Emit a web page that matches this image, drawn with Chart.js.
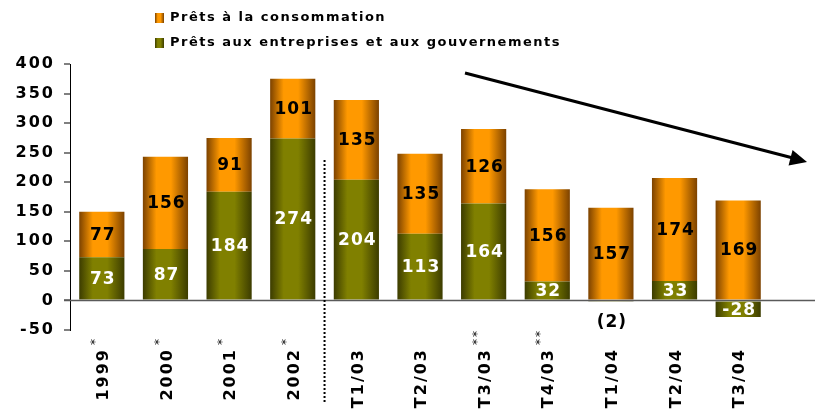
<!DOCTYPE html>
<html lang="fr">
<head>
<meta charset="utf-8">
<title>Prêts</title>
<script src="https://cdn.jsdelivr.net/npm/chart.js@4"></script>
<style>
  body { margin: 0; background: #fff; }
  canvas { display: block; }
</style>
</head>
<body>
<canvas id="pretsChart" width="820" height="412"></canvas>
<script>
// Données
const categories = ['1999', '2000', '2001', '2002', 'T1/03', 'T2/03', 'T3/03', 'T4/03', 'T1/04', 'T2/04', 'T3/04'];
const notes = ['*', '*', '*', '*', '', '', '**', '**', '', '', ''];
const pretsEntreprises = [73, 87, 184, 274, 204, 113, 164, 32, -2, 33, -28];
const pretsConsommation = [77, 156, 91, 101, 135, 135, 126, 156, 157, 174, 169];
const yTicks = [-50, 0, 50, 100, 150, 200, 250, 300, 350, 400];

const FONT = '"DejaVu Sans", Verdana, sans-serif';
const ORANGE = ['#7c4200', '#ff9900'];
const OLIVE = ['#3c3c00', '#808000'];

// Dégradé horizontal sur chaque barre
function makeGradient(c, x0, x1, colors) {
    const g = c.createLinearGradient(x0, 0, x1, 0);
    g.addColorStop(0, colors[0]);
    g.addColorStop(0.3, colors[1]);
    g.addColorStop(0.62, colors[1]);
    g.addColorStop(1, colors[0]);
    return g;
}

function barFill(colors) {
    return (ctx) => {
        if (ctx.type !== 'data') return colors[1];
        const el = ctx.chart.getDatasetMeta(ctx.datasetIndex).data[ctx.dataIndex];
        if (!el || el.x === undefined || !el.width) return colors[1];
        return makeGradient(ctx.chart.ctx, el.x - el.width / 2, el.x + el.width / 2, colors);
    };
}

// Légende, étiquettes, flèche et ligne pointillée
const decorPlugin = {
    id: 'decor',
    beforeDraw(chart) {
        chart.ctx.letterSpacing = '2px';
    },
    afterDatasetsDraw(chart) {
        const c = chart.ctx;
        const x = chart.scales.x;
        const y = chart.scales.y;
        const y0 = y.getPixelForValue(0);

        c.save();
        // ligne du zéro
        c.strokeStyle = '#5a5a5a';
        c.lineWidth = 1.5;
        c.beginPath();
        c.moveTo(64, y0);
        c.lineTo(815, y0);
        c.stroke();

        // ligne pointillée entre 2002 et T1/03
        const sep = (x.getPixelForValue(3) + x.getPixelForValue(4)) / 2;
        c.strokeStyle = '#000';
        c.lineWidth = 2;
        c.setLineDash([2, 2]);
        c.beginPath();
        c.moveTo(sep, 160);
        c.lineTo(sep, 402);
        c.stroke();
        c.setLineDash([]);

        // valeurs dans les barres
        c.font = 'bold 17px ' + FONT;
        c.letterSpacing = '1px';
        c.textAlign = 'center';
        c.textBaseline = 'middle';
        chart.data.datasets.forEach((ds, di) => {
            const meta = chart.getDatasetMeta(di);
            meta.data.forEach((el, i) => {
                const v = ds.data[i];
                const h = Math.abs(el.base - el.y);
                if (h < 12 && v < 0) {
                    c.fillStyle = '#000';
                    c.fillText('(' + Math.abs(v) + ')', el.x + 1, y0 + 22);
                    return;
                }
                c.fillStyle = ds.labelColor;
                c.fillText(String(v), el.x + 1, (el.y + el.base) / 2 + 1);
            });
        });

        // libellés de l'axe x, verticaux
        categories.forEach((lab, i) => {
            const px = x.getPixelForValue(i);
            c.save();
            c.translate(px + 2, 348);
            c.rotate(-Math.PI / 2);
            c.fillStyle = '#000';
            c.font = 'bold 16px ' + FONT;
            c.letterSpacing = '2px';
            c.textAlign = 'right';
            c.textBaseline = 'middle';
            c.fillText(lab, 0, 0);
            if (notes[i]) {
                c.font = '12px ' + FONT;
                c.letterSpacing = '2px';
                c.textAlign = 'left';
                c.fillText(notes[i], 3, -8);
            }
            c.restore();
        });

        // légende
        const items = [chart.data.datasets[1], chart.data.datasets[0]];
        items.forEach((ds, k) => {
            const cy = 18 + k * 25;
            c.fillStyle = makeGradient(c, 155, 164, ds.colors);
            c.fillRect(155, cy - 5, 9, 10);
            c.fillStyle = '#000';
            c.font = 'bold 13px ' + FONT;
            c.letterSpacing = '1.5px';
            c.textAlign = 'left';
            c.textBaseline = 'middle';
            c.fillText(ds.label, 170, cy);
        });

        // flèche de tendance
        c.strokeStyle = '#000';
        c.fillStyle = '#000';
        c.lineWidth = 3;
        c.beginPath();
        c.moveTo(465, 73);
        c.lineTo(793, 158);
        c.stroke();
        const ang = Math.atan2(162 - 73, 807 - 465);
        c.translate(807, 162);
        c.rotate(ang);
        c.beginPath();
        c.moveTo(0, 0);
        c.lineTo(-17, -8);
        c.lineTo(-17, 8);
        c.closePath();
        c.fill();
        c.restore();
    }
};

const chart = new Chart(document.getElementById('pretsChart'), {
    type: 'bar',
    data: {
        labels: categories,
        datasets: [
            {
                label: 'Prêts aux entreprises et aux gouvernements',
                data: pretsEntreprises,
                backgroundColor: barFill(OLIVE),
                colors: OLIVE,
                labelColor: '#fff'
            },
            {
                label: 'Prêts à la consommation',
                data: pretsConsommation,
                backgroundColor: barFill(ORANGE),
                colors: ORANGE,
                labelColor: '#000'
            }
        ]
    },
    options: {
        responsive: false,
        animation: false,
        barPercentage: 0.71,
        categoryPercentage: 1,
        layout: { padding: { top: 64, right: 50, left: 0, bottom: 0 } },
        plugins: {
            legend: { display: false },
            tooltip: { enabled: false }
        },
        scales: {
            x: {
                stacked: true,
                grid: { display: false },
                border: { display: false },
                ticks: { display: false },
                afterFit: (s) => { s.height = 82; }
            },
            y: {
                stacked: true,
                min: -50,
                max: 400,
                afterBuildTicks: (s) => { s.ticks = yTicks.map(v => ({ value: v })); },
                grid: { drawOnChartArea: false, drawTicks: true, tickLength: 6, color: '#808080', lineWidth: 2 },
                border: { display: true, color: '#000', width: 1 },
                ticks: {
                    color: '#000',
                    padding: 9,
                    font: { family: FONT, size: 16, weight: 'bold' }
                },
                afterFit: (s) => { s.width = 70; }
            }
        }
    },
    plugins: [decorPlugin]
});

// second passage pour que les dégradés connaissent la position des barres
chart.update('none');
</script>
</body>
</html>
